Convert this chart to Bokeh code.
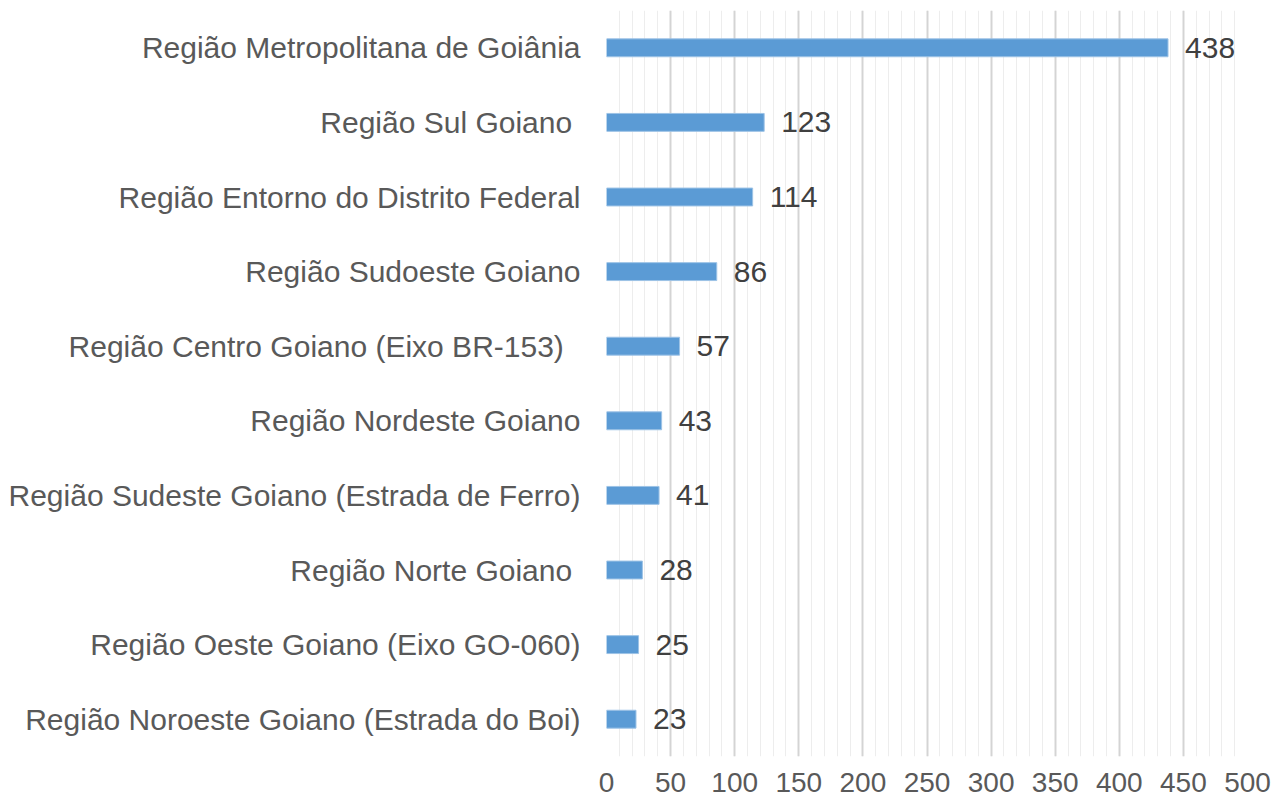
from bokeh.plotting import figure
from bokeh.models import ColumnDataSource, FactorRange, Range1d, SingleIntervalTicker
from bokeh.core.properties import value
from bokeh.embed import file_html
from bokeh.resources import INLINE

regions = [
    "Região Metropolitana de Goiânia",
    "Região Sul Goiano ",
    "Região Entorno do Distrito Federal",
    "Região Sudoeste Goiano",
    "Região Centro Goiano (Eixo BR-153)  ",
    "Região Nordeste Goiano",
    "Região Sudeste Goiano (Estrada de Ferro)",
    "Região Norte Goiano ",
    "Região Oeste Goiano (Eixo GO-060)",
    "Região Noroeste Goiano (Estrada do Boi)",
]
counts = [438, 123, 114, 86, 57, 43, 41, 28, 25, 23]
x_ticks = [0, 50, 100, 150, 200, 250, 300, 350, 400, 450, 500]

FONT = "Liberation Sans"

src = ColumnDataSource(dict(
    cat=regions,
    val=counts,
    lab=[str(v) for v in counts],
))

p = figure(
    width=1281, height=805,
    y_range=FactorRange(factors=list(reversed(regions))),
    x_range=Range1d(x_ticks[0], x_ticks[-1]),
    output_backend="svg", toolbar_location=None,
    min_border_left=606, min_border_right=34,
    min_border_top=10, min_border_bottom=49,
)
p.outline_line_color = None
p.background_fill_color = "white"
p.border_fill_color = "white"

ticker = SingleIntervalTicker(interval=50, num_minor_ticks=5)
p.xaxis.ticker = ticker
p.xgrid.ticker = ticker
p.xgrid.grid_line_color = "#d4d4d4"
p.xgrid.grid_line_width = 2
p.xgrid.minor_grid_line_color = "#ededed"
p.xgrid.minor_grid_line_width = 1
p.ygrid.visible = False

p.hbar(y="cat", right="val", left=0, height=0.24, source=src,
       fill_color="#5B9BD5", line_color="#9DC3E6", line_width=1)

p.text(x="val", y="cat", text="lab", source=src, x_offset=17,
       text_baseline="middle", text_align="left",
       text_font=value(FONT), text_font_size="30px", text_color="#404040")

for ax in (p.xaxis[0], p.yaxis[0]):
    ax.axis_line_color = None
    ax.major_tick_line_color = None
    ax.minor_tick_line_color = None
    ax.major_tick_out = 0
    ax.major_tick_in = 0
    ax.minor_tick_out = 0
    ax.major_label_text_font = FONT
    ax.major_label_text_color = "#595959"

p.yaxis.major_label_text_font_size = "30px"
p.yaxis.major_label_standoff = 26
p.xaxis.major_label_text_font_size = "28px"
p.xaxis.major_label_standoff = 16

open("out.html", "w").write(file_html(p, INLINE))
